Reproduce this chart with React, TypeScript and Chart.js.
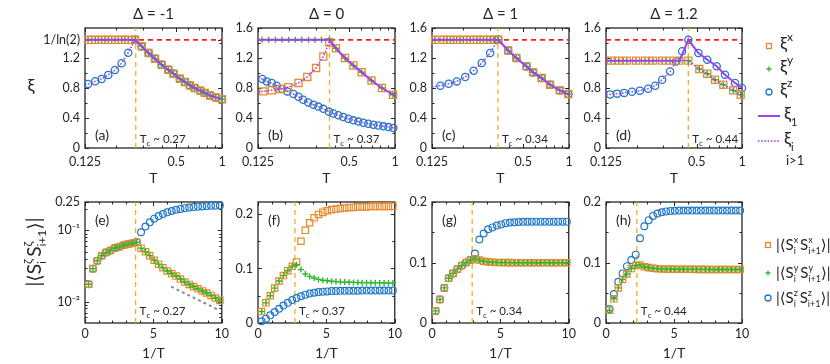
import { useEffect, useRef } from 'react';
import { Chart, registerables } from 'chart.js';

Chart.register(...registerables);

const FONT = 'Lato, "Noto Sans", "DejaVu Sans", sans-serif';
const INK = '#262626';
const COL_X = '#E8892B';
const COL_Y = '#2DB82D';
const COL_Z = '#1F78C8';
const COL_P = '#A23FF0';
const COL_RED = '#FF1A1A';
const COL_TC = '#EDB120';
const COL_GRAY = '#8C8C8C';
const XI_MAX = 1.4427; // 1/ln(2)

// ---------------- top row data (T, xi) ----------------
// (a) Delta = -1
const aT = [0.131, 0.146, 0.161, 0.178, 0.197, 0.218, 0.241, 0.267, 0.296, 0.328, 0.362, 0.4, 0.443, 0.48, 0.528, 0.57, 0.615, 0.66, 0.72, 0.77, 0.835, 0.91, 1.0];
const aXiX = [1.4427, 1.4427, 1.4427, 1.4427, 1.4427, 1.4427, 1.4427, 1.4427, 1.355, 1.267, 1.19, 1.11, 1.044, 0.99, 0.924, 0.88, 0.835, 0.8, 0.765, 0.735, 0.7, 0.675, 0.65];
const aXiY = [1.4427, 1.4427, 1.4427, 1.4427, 1.4427, 1.4427, 1.4427, 1.4427, 1.355, 1.267, 1.19, 1.11, 1.044, 0.99, 0.924, 0.88, 0.835, 0.8, 0.765, 0.735, 0.7, 0.675, 0.65];
const aXiZ = [0.853, 0.89, 0.92, 0.975, 1.04, 1.13, 1.27, 1.4427, 1.355, 1.267, 1.19, 1.11, 1.044, 0.99, 0.924, 0.88, 0.835, 0.8, 0.765, 0.735, 0.7, 0.675, 0.65];
const aL1T = [0.125, 0.267, 0.296, 0.328, 0.362, 0.4, 0.443, 0.48, 0.528, 0.57, 0.615, 0.66, 0.72, 0.77, 0.835, 0.91, 1.0];
const aL1 = [1.4427, 1.4427, 1.355, 1.267, 1.19, 1.11, 1.044, 0.99, 0.924, 0.88, 0.835, 0.8, 0.765, 0.735, 0.7, 0.675, 0.65];
const aL2T = [0.125, 0.131, 0.146, 0.161, 0.178, 0.197, 0.218, 0.241, 0.267, 0.296, 0.328, 0.362, 0.4, 0.443, 0.48, 0.528, 0.57, 0.615, 0.66, 0.72, 0.77, 0.835, 0.91, 1.0];
const aL2 = [0.84, 0.853, 0.89, 0.92, 0.975, 1.04, 1.13, 1.27, 1.4427, 1.355, 1.267, 1.19, 1.11, 1.044, 0.99, 0.924, 0.88, 0.835, 0.8, 0.765, 0.735, 0.7, 0.675, 0.65];

// (b) Delta = 0
const bTx = [0.1355, 0.154, 0.175, 0.198, 0.231, 0.264, 0.302, 0.337, 0.369, 0.408, 0.468, 0.532, 0.603, 0.7, 0.82, 0.97];
const bXiX = [0.755, 0.77, 0.787, 0.81, 0.867, 0.947, 1.067, 1.22, 1.41, 1.33, 1.2, 1.1, 1.01, 0.9, 0.8, 0.71];
const bTy = [0.133, 0.147, 0.163, 0.18, 0.199, 0.22, 0.243, 0.269, 0.297, 0.328, 0.369, 0.408, 0.468, 0.532, 0.603, 0.7, 0.82, 0.97];
const bXiY = [1.4427, 1.4427, 1.4427, 1.4427, 1.4427, 1.4427, 1.4427, 1.4427, 1.4427, 1.4427, 1.4427, 1.33, 1.2, 1.1, 1.01, 0.9, 0.8, 0.71];
const bTz = [0.1334, 0.1426, 0.154, 0.166, 0.181, 0.195, 0.214, 0.231, 0.248, 0.268, 0.29, 0.312, 0.337, 0.367, 0.392, 0.423, 0.456, 0.493, 0.531, 0.573, 0.618, 0.667, 0.72, 0.776, 0.838, 0.904, 0.975];
const bXiZ = [0.92, 0.888, 0.867, 0.83, 0.787, 0.755, 0.72, 0.684, 0.644, 0.608, 0.577, 0.552, 0.522, 0.485, 0.46, 0.437, 0.413, 0.39, 0.369, 0.352, 0.337, 0.324, 0.311, 0.3, 0.289, 0.279, 0.268];
const bL1T = [0.125, 0.369, 0.408, 0.468, 0.532, 0.603, 0.7, 0.82, 1.0];
const bL1 = [1.4427, 1.4427, 1.33, 1.2, 1.1, 1.01, 0.9, 0.8, 0.7];
const bL2T = [0.125, 0.1355, 0.154, 0.175, 0.198, 0.231, 0.264, 0.302, 0.337, 0.369, 0.408, 0.468, 0.532, 0.603, 0.7, 0.82, 0.97, 1.0];
const bL2 = [0.75, 0.755, 0.77, 0.787, 0.81, 0.867, 0.947, 1.067, 1.22, 1.41, 1.33, 1.2, 1.1, 1.01, 0.9, 0.8, 0.71, 0.7];
const bL3T = [0.125, 0.1334, 0.1426, 0.154, 0.166, 0.181, 0.195, 0.214, 0.231, 0.248, 0.268, 0.29, 0.312, 0.337, 0.367, 0.392, 0.423, 0.456, 0.493, 0.531, 0.573, 0.618, 0.667, 0.72, 0.776, 0.838, 0.904, 0.975, 1.0];
const bL3 = [0.935, 0.92, 0.888, 0.867, 0.83, 0.787, 0.755, 0.72, 0.684, 0.644, 0.608, 0.577, 0.552, 0.522, 0.485, 0.46, 0.437, 0.413, 0.39, 0.369, 0.352, 0.337, 0.324, 0.311, 0.3, 0.289, 0.279, 0.268, 0.265];

// (c) Delta = 1
const cTx = [0.131, 0.149, 0.165, 0.182, 0.201, 0.223, 0.247, 0.273, 0.302, 0.322, 0.342, 0.397, 0.45, 0.525, 0.58, 0.66, 0.75, 0.87, 0.99];
const cXiX = [1.4427, 1.4427, 1.4427, 1.4427, 1.4427, 1.4427, 1.4427, 1.4427, 1.4427, 1.4427, 1.4427, 1.3, 1.2, 1.088, 1.008, 0.933, 0.844, 0.768, 0.72];
const cXiY = [1.4427, 1.4427, 1.4427, 1.4427, 1.4427, 1.4427, 1.4427, 1.4427, 1.4427, 1.4427, 1.4427, 1.3, 1.2, 1.088, 1.008, 0.933, 0.844, 0.768, 0.72];
const cTz = [0.142, 0.161, 0.182, 0.207, 0.235, 0.266, 0.302, 0.342, 0.397, 0.45, 0.525, 0.58, 0.66, 0.75, 0.87, 0.99];
const cXiZ = [0.83, 0.857, 0.888, 0.947, 1.03, 1.133, 1.267, 1.4427, 1.3, 1.2, 1.088, 1.008, 0.933, 0.844, 0.768, 0.72];
const cL1T = [0.125, 0.342, 0.397, 0.45, 0.525, 0.58, 0.66, 0.75, 0.87, 1.0];
const cL1 = [1.4427, 1.4427, 1.3, 1.2, 1.088, 1.008, 0.933, 0.844, 0.768, 0.71];
const cL2T = [0.125, 0.142, 0.161, 0.182, 0.207, 0.235, 0.266, 0.302, 0.342, 0.397, 0.45, 0.525, 0.58, 0.66, 0.75, 0.87, 0.99, 1.0];
const cL2 = [0.815, 0.83, 0.857, 0.888, 0.947, 1.03, 1.133, 1.267, 1.4427, 1.3, 1.2, 1.088, 1.008, 0.933, 0.844, 0.768, 0.72, 0.71];

// (d) Delta = 1.2
const dTx = [0.135, 0.152, 0.172, 0.198, 0.227, 0.256, 0.295, 0.333, 0.382, 0.44, 0.521, 0.588, 0.662, 0.752, 0.875, 0.98];
const dXiX = [1.165, 1.165, 1.165, 1.165, 1.165, 1.165, 1.165, 1.165, 1.165, 1.165, 1.053, 0.99, 0.91, 0.844, 0.768, 0.71];
const dXiY = [1.165, 1.165, 1.165, 1.165, 1.165, 1.165, 1.165, 1.165, 1.165, 1.165, 1.053, 0.99, 0.91, 0.844, 0.768, 0.71];
const dTz = [0.133, 0.148, 0.165, 0.186, 0.21, 0.238, 0.265, 0.295, 0.333, 0.365, 0.4, 0.44, 0.513, 0.588, 0.679, 0.771, 0.899, 1.0];
const dXiZ = [0.715, 0.725, 0.735, 0.75, 0.765, 0.79, 0.83, 0.91, 1.02, 1.155, 1.29, 1.4427, 1.267, 1.178, 1.09, 0.978, 0.867, 0.8];
const dL1T = [0.125, 0.385, 0.44, 0.513, 0.588, 0.679, 0.771, 0.899, 1.0];
const dL1 = [1.165, 1.165, 1.4427, 1.267, 1.178, 1.09, 0.978, 0.867, 0.8];
const dL2T = [0.125, 0.133, 0.148, 0.165, 0.186, 0.21, 0.238, 0.265, 0.295, 0.333, 0.365, 0.385, 0.44, 0.521, 0.588, 0.662, 0.752, 0.875, 1.0];
const dL2 = [0.71, 0.715, 0.725, 0.735, 0.75, 0.765, 0.79, 0.83, 0.91, 1.02, 1.155, 1.165, 1.165, 1.053, 0.99, 0.91, 0.844, 0.768, 0.7];

const TC_T = [0.27, 0.37, 0.34, 0.44];
const TC_TEXT = ['0.27', '0.37', '0.34', '0.44'];
const TC_INV = [3.7, 2.7, 2.94, 2.27];

// ---------------- bottom row data (1/T, |<S S>|) ----------------
const invT = [0.26, 0.58, 0.9, 1.22, 1.54, 1.86, 2.18, 2.5, 2.82, 3.14, 3.46, 3.78, 4.1, 4.42, 4.74, 5.06, 5.38, 5.7, 6.02, 6.34, 6.66, 6.98, 7.3, 7.62, 7.94, 8.26, 8.58, 8.9, 9.22, 9.54, 9.86];

const eX = [0.0175, 0.029, 0.0375, 0.044, 0.049, 0.052, 0.0565, 0.059, 0.0617, 0.064, 0.066, 0.068, 0.0562, 0.0501, 0.0442, 0.038, 0.0335, 0.0299, 0.0269, 0.0248, 0.0228, 0.0207, 0.0188, 0.0174, 0.0162, 0.0151, 0.0141, 0.0132, 0.0122, 0.0112, 0.0104];
const eY = [0.0175, 0.029, 0.0375, 0.044, 0.049, 0.052, 0.0565, 0.059, 0.0617, 0.064, 0.066, 0.068, 0.0562, 0.0501, 0.0442, 0.038, 0.0335, 0.0299, 0.0269, 0.0248, 0.0228, 0.0207, 0.0188, 0.0174, 0.0162, 0.0151, 0.0141, 0.0132, 0.0122, 0.0112, 0.0104];
const eZ = [0.0175, 0.029, 0.0375, 0.044, 0.049, 0.052, 0.0565, 0.059, 0.0617, 0.064, 0.066, 0.068, 0.094, 0.113, 0.13, 0.146, 0.159, 0.17, 0.179, 0.187, 0.194, 0.2, 0.205, 0.209, 0.212, 0.215, 0.217, 0.219, 0.221, 0.222, 0.223];
const eGuideX = [6.3, 9.85];
const eGuideY = [0.0162, 0.0075];

const fX = [0.021, 0.037, 0.05, 0.064, 0.077, 0.087, 0.096, 0.104, 0.112, 0.15, 0.17, 0.184, 0.193, 0.199, 0.203, 0.206, 0.208, 0.209, 0.21, 0.211, 0.212, 0.212, 0.213, 0.213, 0.213, 0.214, 0.214, 0.214, 0.214, 0.214, 0.214];
const fY = [0.021, 0.037, 0.05, 0.064, 0.077, 0.087, 0.096, 0.104, 0.107, 0.098, 0.09, 0.0855, 0.0825, 0.08, 0.0785, 0.0775, 0.0765, 0.076, 0.0755, 0.075, 0.0748, 0.0745, 0.0743, 0.074, 0.074, 0.0738, 0.0737, 0.0736, 0.0735, 0.0734, 0.0734];
const fZ = [0.003, 0.008, 0.014, 0.02, 0.026, 0.032, 0.037, 0.042, 0.046, 0.049, 0.052, 0.054, 0.0555, 0.057, 0.0575, 0.058, 0.0585, 0.0588, 0.059, 0.059, 0.0592, 0.0593, 0.0593, 0.0594, 0.0594, 0.0595, 0.0595, 0.0595, 0.0595, 0.0595, 0.0595];

const gX = [0.02, 0.039, 0.058, 0.074, 0.082, 0.089, 0.095, 0.1, 0.104, 0.106, 0.104, 0.102, 0.101, 0.1005, 0.1, 0.1, 0.0998, 0.0998, 0.0997, 0.0997, 0.0996, 0.0996, 0.0996, 0.0995, 0.0995, 0.0995, 0.0995, 0.0995, 0.0995, 0.0995, 0.0995];
const gY = [0.02, 0.039, 0.058, 0.074, 0.082, 0.089, 0.095, 0.1, 0.104, 0.106, 0.104, 0.102, 0.101, 0.1005, 0.1, 0.1, 0.0998, 0.0998, 0.0997, 0.0997, 0.0996, 0.0996, 0.0996, 0.0995, 0.0995, 0.0995, 0.0995, 0.0995, 0.0995, 0.0995, 0.0995];
const gZ = [0.02, 0.039, 0.058, 0.074, 0.082, 0.089, 0.095, 0.1, 0.104, 0.115, 0.138, 0.148, 0.155, 0.158, 0.161, 0.163, 0.165, 0.166, 0.1665, 0.167, 0.1672, 0.1674, 0.1675, 0.1675, 0.1675, 0.1675, 0.1675, 0.1675, 0.1675, 0.1675, 0.1675];

const hX = [0.021, 0.04, 0.058, 0.072, 0.081, 0.09, 0.095, 0.096, 0.093, 0.0915, 0.0905, 0.0898, 0.0894, 0.0891, 0.089, 0.0889, 0.0888, 0.0888, 0.0887, 0.0887, 0.0886, 0.0886, 0.0886, 0.0885, 0.0885, 0.0885, 0.0885, 0.0885, 0.0885, 0.0885, 0.0885];
const hY = [0.021, 0.04, 0.058, 0.072, 0.081, 0.09, 0.095, 0.096, 0.093, 0.0915, 0.0905, 0.0898, 0.0894, 0.0891, 0.089, 0.0889, 0.0888, 0.0888, 0.0887, 0.0887, 0.0886, 0.0886, 0.0886, 0.0885, 0.0885, 0.0885, 0.0885, 0.0885, 0.0885, 0.0885, 0.0885];
const hZ = [0.023, 0.048, 0.068, 0.082, 0.094, 0.104, 0.113, 0.14, 0.16, 0.17, 0.177, 0.181, 0.183, 0.1845, 0.185, 0.1855, 0.186, 0.186, 0.186, 0.186, 0.186, 0.186, 0.186, 0.186, 0.186, 0.186, 0.186, 0.186, 0.186, 0.186, 0.186];

// tick definitions
const T_TICKS = [0.125, 0.5, 1];
const T_MINOR = [0.2, 0.3, 0.4, 0.6, 0.7, 0.8, 0.9];
const XI_TICKS_A = [0, 0.4, 0.8, 1.2, XI_MAX];
const XI_TICKS = [0, 0.4, 0.8, 1.2, 1.6];
const XI_MINOR = [0.2, 0.6, 1.0, 1.4];
const INV_TICKS = [0, 5, 10];
const INV_MINOR = [1, 2, 3, 4, 6, 7, 8, 9];
const CORR_LOG_TICKS = [0.01, 0.1, 0.25];
const CORR_LOG_MINOR = [0.006, 0.007, 0.008, 0.009, 0.02, 0.03, 0.04, 0.05, 0.06, 0.07, 0.08, 0.09, 0.2];
const CORR_TICKS = [0, 0.1, 0.2];
const CORR_MINOR = [0.05, 0.15];

// ---------------- helpers ----------------
const pts = (xs: number[], ys: number[]) => xs.map((x, i) => ({ x, y: ys[i] }));

function marker(xs: number[], ys: number[], style: string, color: string, r: number, bw: number, order: number) {
  return {
    data: pts(xs, ys), pointStyle: style, pointRadius: r, pointHoverRadius: r,
    pointBorderColor: color, pointBackgroundColor: 'rgba(0,0,0,0)', pointBorderWidth: bw,
    showLine: false, order, clip: false,
  };
}
function line(xs: number[], ys: number[], color: string, w: number, dash: number[], order: number) {
  return {
    data: pts(xs, ys), showLine: true, borderColor: color, borderWidth: w, borderDash: dash,
    pointRadius: 0, pointHoverRadius: 0, order, clip: false, tension: 0,
  };
}
const sqT = (xs: number[], ys: number[]) => marker(xs, ys, 'rect', COL_X, 5, 1.3, 3);
const plT = (xs: number[], ys: number[]) => marker(xs, ys, 'cross', COL_Y, 3, 1.4, 2);
const ciT = (xs: number[], ys: number[]) => marker(xs, ys, 'circle', COL_Z, 3.6, 1.3, 4);
const sqB = (xs: number[], ys: number[]) => marker(xs, ys, 'rect', COL_X, 4.5, 1.2, 3);
const plB = (xs: number[], ys: number[]) => marker(xs, ys, 'cross', COL_Y, 3, 1.4, 2);
const ciB = (xs: number[], ys: number[]) => marker(xs, ys, 'circle', COL_Z, 3.4, 1.2, 4);
const solid = (xs: number[], ys: number[]) => line(xs, ys, COL_P, 2, [], 0);
const dotted = (xs: number[], ys: number[]) => line(xs, ys, COL_P, 1.6, [1.6, 1.6], 1);
const redLine = () => line([0.125, 1], [XI_MAX, XI_MAX], COL_RED, 1.8, [5, 4], 7);
const tcLine = (x: number, y0: number, y1: number) => line([x, x], [y0, y1], COL_TC, 1.3, [5, 4], 6);

interface Run { t: string; size: number; dy?: number; stack?: boolean }
function runsWidth(ctx: CanvasRenderingContext2D, runs: Run[]) {
  let w = 0, pend = 0;
  for (const r of runs) {
    ctx.font = `${r.size}px ${FONT}`;
    const rw = ctx.measureText(r.t).width;
    if (r.stack) pend = Math.max(pend, rw); else { w += Math.max(rw, pend); pend = 0; }
  }
  return w + pend;
}
function drawRuns(ctx: CanvasRenderingContext2D, x: number, y: number, runs: Run[], align: 'left' | 'center') {
  let cx = align === 'center' ? x - runsWidth(ctx, runs) / 2 : x;
  let pend = 0;
  ctx.textAlign = 'left';
  ctx.textBaseline = 'alphabetic';
  for (const r of runs) {
    ctx.font = `${r.size}px ${FONT}`;
    const rw = ctx.measureText(r.t).width;
    ctx.fillText(r.t, cx, y + (r.dy || 0));
    if (r.stack) pend = Math.max(pend, rw); else { cx += Math.max(rw, pend); pend = 0; }
  }
}
const corrRuns = (c: string, big: number, small: number, up: number, down: number): Run[] => [
  { t: '|⟨S', size: big },
  { t: c, size: small, dy: -up, stack: true },
  { t: 'i', size: small, dy: down },
  { t: '\u2009S', size: big },
  { t: c, size: small, dy: -up, stack: true },
  { t: 'i+1', size: small, dy: down },
  { t: '⟩|', size: big },
];

// ---------------- geometry ----------------
const COLS: [number, number][] = [[85, 222], [258, 395], [432, 569], [606, 742]];
const ROWS = [
  { top: 28, bottom: 148, cTop: 0, cH: 190 },
  { top: 202, bottom: 323, cTop: 186, cH: 178 },
];

interface Axis { type: 'linear' | 'logarithmic'; min: number; max: number; ticks: number[]; minor: number[]; label: (v: number) => string; pad: number }
interface PanelCfg {
  row: number; col: number; x: Axis; y: Axis; datasets: any[];
  letter: string; tc: number; tcText: string; title?: string;
  extra?: (ctx: CanvasRenderingContext2D, ox: number, oy: number) => void;
}

const fmt = (v: number) => (v === 0 ? '0' : String(+v.toFixed(3)));
const xT: Axis = { type: 'logarithmic', min: 0.125, max: 1, ticks: T_TICKS, minor: T_MINOR, label: fmt, pad: 6 };
const xInv: Axis = { type: 'linear', min: 0, max: 10, ticks: INV_TICKS, minor: INV_MINOR, label: fmt, pad: 3 };
const yXi = (ticks: number[]): Axis => ({
  type: 'linear', min: 0, max: 1.6, ticks, minor: XI_MINOR, pad: 5,
  label: (v) => (Math.abs(v - XI_MAX) < 1e-6 ? '1/ln(2)' : fmt(v)),
});
const yCorr = (max: number): Axis => ({ type: 'linear', min: 0, max, ticks: CORR_TICKS, minor: CORR_MINOR, label: fmt, pad: 5 });
const yCorrLog: Axis = {
  type: 'logarithmic', min: 0.005, max: 0.25, ticks: CORR_LOG_TICKS, minor: CORR_LOG_MINOR, pad: 5,
  label: (v) => (v === 0.01 ? '10⁻²' : v === 0.1 ? '10⁻¹' : '0.25'),
};

// ---------------- extras (labels, legends) ----------------
const xiYLabel = (ctx: CanvasRenderingContext2D, ox: number, oy: number) => {
  ctx.fillStyle = INK;
  ctx.font = `18px ${FONT}`;
  ctx.textAlign = 'center';
  ctx.textBaseline = 'alphabetic';
  ctx.fillText('ξ', 31 - ox, 92 - oy);
};
const corrYLabel = (ctx: CanvasRenderingContext2D, ox: number, oy: number) => {
  ctx.save();
  ctx.fillStyle = INK;
  ctx.translate(35 - ox, 252 - oy);
  ctx.rotate(-Math.PI / 2);
  drawRuns(ctx, 0, 6, corrRuns('ζ', 19, 12, 9, 5), 'center');
  ctx.restore();
};
const topLegend = (ctx: CanvasRenderingContext2D, ox: number, oy: number) => {
  const mx = 769 - ox;
  ctx.lineWidth = 1.3;
  ctx.strokeStyle = COL_X;
  ctx.strokeRect(mx - 2.5, 46 - oy - 2.5, 5, 5);
  ctx.strokeStyle = COL_Y;
  ctx.beginPath();
  ctx.moveTo(mx - 2.5, 69 - oy); ctx.lineTo(mx + 2.5, 69 - oy);
  ctx.moveTo(mx, 69 - oy - 2.5); ctx.lineTo(mx, 69 - oy + 2.5);
  ctx.stroke();
  ctx.strokeStyle = COL_Z;
  ctx.beginPath(); ctx.arc(mx, 92 - oy, 3, 0, Math.PI * 2); ctx.stroke();
  ctx.strokeStyle = COL_P; ctx.lineWidth = 2;
  ctx.beginPath(); ctx.moveTo(758 - ox, 116 - oy); ctx.lineTo(780 - ox, 116 - oy); ctx.stroke();
  ctx.lineWidth = 1.6; ctx.setLineDash([1.6, 1.6]);
  ctx.beginPath(); ctx.moveTo(758 - ox, 141 - oy); ctx.lineTo(780 - ox, 141 - oy); ctx.stroke();
  ctx.setLineDash([]);
  ctx.fillStyle = INK;
  const tx = 780 - ox;
  drawRuns(ctx, tx, 50 - oy, [{ t: 'ξ', size: 18 }, { t: 'x', size: 12, dy: -9 }], 'left');
  drawRuns(ctx, tx, 73 - oy, [{ t: 'ξ', size: 18 }, { t: 'y', size: 12, dy: -9 }], 'left');
  drawRuns(ctx, tx, 96 - oy, [{ t: 'ξ', size: 18 }, { t: 'z', size: 12, dy: -9 }], 'left');
  drawRuns(ctx, 784 - ox, 120 - oy, [{ t: 'ξ', size: 18 }, { t: '1', size: 11, dy: 6 }], 'left');
  drawRuns(ctx, 784 - ox, 145 - oy, [{ t: 'ξ', size: 18 }, { t: 'i', size: 11, dy: 6 }], 'left');
  drawRuns(ctx, 786 - ox, 165 - oy, [{ t: 'i>1', size: 13 }], 'left');
};
const botLegend = (ctx: CanvasRenderingContext2D, ox: number, oy: number) => {
  const mx = 768 - ox;
  ctx.lineWidth = 1.3;
  ctx.strokeStyle = COL_X;
  ctx.strokeRect(mx - 2.5, 245 - oy - 2.5, 5, 5);
  ctx.strokeStyle = COL_Y;
  ctx.beginPath();
  ctx.moveTo(mx - 2.5, 273 - oy); ctx.lineTo(mx + 2.5, 273 - oy);
  ctx.moveTo(mx, 273 - oy - 2.5); ctx.lineTo(mx, 273 - oy + 2.5);
  ctx.stroke();
  ctx.strokeStyle = COL_Z;
  ctx.beginPath(); ctx.arc(mx, 298 - oy, 3, 0, Math.PI * 2); ctx.stroke();
  ctx.fillStyle = INK;
  const tx = 776 - ox;
  drawRuns(ctx, tx, 250 - oy, corrRuns('x', 15, 9, 7, 4), 'left');
  drawRuns(ctx, tx, 278 - oy, corrRuns('y', 15, 9, 7, 4), 'left');
  drawRuns(ctx, tx, 303 - oy, corrRuns('z', 15, 9, 7, 4), 'left');
};

// ---------------- panels ----------------
const PANELS: PanelCfg[] = [
  {
    row: 0, col: 0, x: xT, y: yXi(XI_TICKS_A), letter: '(a)', tc: TC_T[0], tcText: TC_TEXT[0], title: 'Δ = -1', extra: xiYLabel,
    datasets: [solid(aL1T, aL1), dotted(aL2T, aL2), plT(aT, aXiY), sqT(aT, aXiX), ciT(aT, aXiZ), redLine(), tcLine(TC_T[0], 0, 1.6)],
  },
  {
    row: 0, col: 1, x: xT, y: yXi(XI_TICKS), letter: '(b)', tc: TC_T[1], tcText: TC_TEXT[1], title: 'Δ = 0',
    datasets: [solid(bL1T, bL1), dotted(bL2T, bL2), dotted(bL3T, bL3), plT(bTy, bXiY), sqT(bTx, bXiX), ciT(bTz, bXiZ), redLine(), tcLine(TC_T[1], 0, 1.6)],
  },
  {
    row: 0, col: 2, x: xT, y: yXi(XI_TICKS), letter: '(c)', tc: TC_T[2], tcText: TC_TEXT[2], title: 'Δ = 1',
    datasets: [solid(cL1T, cL1), dotted(cL2T, cL2), plT(cTx, cXiY), sqT(cTx, cXiX), ciT(cTz, cXiZ), redLine(), tcLine(TC_T[2], 0, 1.6)],
  },
  {
    row: 0, col: 3, x: xT, y: yXi(XI_TICKS), letter: '(d)', tc: TC_T[3], tcText: TC_TEXT[3], title: 'Δ = 1.2', extra: topLegend,
    datasets: [solid(dL1T, dL1), dotted(dL2T, dL2), plT(dTx, dXiY), sqT(dTx, dXiX), ciT(dTz, dXiZ), redLine(), tcLine(TC_T[3], 0, 1.6)],
  },
  {
    row: 1, col: 0, x: xInv, y: yCorrLog, letter: '(e)', tc: TC_INV[0], tcText: TC_TEXT[0], extra: corrYLabel,
    datasets: [plB(invT, eY), sqB(invT, eX), ciB(invT, eZ), line(eGuideX, eGuideY, COL_GRAY, 2, [3, 3], 5), tcLine(TC_INV[0], 0.005, 0.25)],
  },
  {
    row: 1, col: 1, x: xInv, y: yCorr(0.222), letter: '(f)', tc: TC_INV[1], tcText: TC_TEXT[1],
    datasets: [plB(invT, fY), sqB(invT, fX), ciB(invT, fZ), tcLine(TC_INV[1], 0, 0.222)],
  },
  {
    row: 1, col: 2, x: xInv, y: yCorr(0.2), letter: '(g)', tc: TC_INV[2], tcText: TC_TEXT[2],
    datasets: [plB(invT, gY), sqB(invT, gX), ciB(invT, gZ), tcLine(TC_INV[2], 0, 0.2)],
  },
  {
    row: 1, col: 3, x: xInv, y: yCorr(0.2), letter: '(h)', tc: TC_INV[3], tcText: TC_TEXT[3], extra: botLegend,
    datasets: [plB(invT, hY), sqB(invT, hX), ciB(invT, hZ), tcLine(TC_INV[3], 0, 0.2)],
  },
];

function geometry(cfg: PanelCfg) {
  const g = ROWS[cfg.row];
  const [pl, pr] = COLS[cfg.col];
  const left = cfg.col === 0 ? 0 : pl - 42;
  const right = cfg.col === 3 ? 830 : pr + 10;
  return { g, pl, pr, left, right, width: right - left };
}

function Panel({ cfg }: { cfg: PanelCfg }) {
  const ref = useRef<HTMLCanvasElement>(null);
  const geo = geometry(cfg);
  useEffect(() => {
    const canvas = ref.current;
    if (!canvas) return;
    const { g, pl, pr, left, right } = geo;
    const deco = {
      id: 'deco',
      beforeDatasetsDraw(chart: any) {
        const { ctx, chartArea: a } = chart;
        const xs = chart.scales.x, ys = chart.scales.y;
        ctx.save();
        ctx.strokeStyle = INK;
        ctx.lineWidth = 1;
        ctx.beginPath();
        const xt = (vals: number[], len: number) => {
          for (const v of vals) {
            const p = Math.round(xs.getPixelForValue(v)) + 0.5;
            ctx.moveTo(p, a.bottom); ctx.lineTo(p, a.bottom - len);
            ctx.moveTo(p, a.top); ctx.lineTo(p, a.top + len);
          }
        };
        const yt = (vals: number[], len: number) => {
          for (const v of vals) {
            const p = Math.round(ys.getPixelForValue(v)) + 0.5;
            ctx.moveTo(a.left, p); ctx.lineTo(a.left + len, p);
            ctx.moveTo(a.right, p); ctx.lineTo(a.right - len, p);
          }
        };
        xt(cfg.x.ticks, 4); xt(cfg.x.minor, 2.5);
        yt(cfg.y.ticks, 4); yt(cfg.y.minor, 2.5);
        ctx.stroke();
        ctx.lineWidth = 1.3;
        ctx.strokeRect(a.left, a.top, a.right - a.left, a.bottom - a.top);
        ctx.restore();
      },
      afterDraw(chart: any) {
        const { ctx, chartArea: a } = chart;
        const cx = (a.left + a.right) / 2;
        ctx.save();
        ctx.fillStyle = INK;
        ctx.textBaseline = 'alphabetic';
        ctx.textAlign = 'center';
        if (cfg.title) {
          ctx.font = `15px ${FONT}`;
          ctx.fillText(cfg.title, cx, a.top - 9);
        }
        ctx.font = `14px ${FONT}`;
        ctx.fillText(cfg.row === 0 ? 'T' : '1/T', cx, a.bottom + 35);
        ctx.textAlign = 'left';
        ctx.font = `14px ${FONT}`;
        ctx.fillText(cfg.letter, a.left + 10, cfg.row === 0 ? a.bottom - 8 : a.top + 23);
        const tx = chart.scales.x.getPixelForValue(cfg.tc) + 4;
        drawRuns(ctx, tx, cfg.row === 0 ? a.bottom - 5 : a.bottom - 8,
          [{ t: 'T', size: 11.5 }, { t: 'c', size: 8, dy: 3 }, { t: ' ~ ' + cfg.tcText, size: 11.5 }], 'left');
        if (cfg.extra) cfg.extra(ctx, left, g.cTop);
        ctx.restore();
      },
    };
    const axisOpts = (ax: Axis, isX: boolean) => ({
      type: ax.type, min: ax.min, max: ax.max,
      grid: { display: false, drawTicks: false, tickLength: 0 },
      border: { display: false },
      ticks: {
        autoSkip: false, maxRotation: 0, minRotation: 0, padding: ax.pad,
        color: INK, font: { family: FONT, size: 12.5 },
        callback: (v: any) => ax.label(Number(v)),
      },
      afterBuildTicks: (s: any) => { s.ticks = ax.ticks.map((v) => ({ value: v })); },
      afterFit: (s: any) => {
        if (isX) s.height = g.cTop + g.cH - g.bottom;
        else s.width = pl - left;
      },
    });
    const chart = new Chart(canvas, {
      type: 'scatter',
      data: { datasets: cfg.datasets as any },
      options: {
        responsive: false,
        animation: false,
        devicePixelRatio: 1,
        events: [],
        layout: { padding: { left: 0, right: right - pr, top: g.top - g.cTop, bottom: 0 } },
        plugins: { legend: { display: false }, tooltip: { enabled: false }, title: { display: false } },
        scales: { x: axisOpts(cfg.x, true) as any, y: axisOpts(cfg.y, false) as any },
      },
      plugins: [deco],
    });
    return () => chart.destroy();
  }, []);
  return (
    <canvas
      ref={ref}
      width={geo.width}
      height={geo.g.cH}
      style={{ position: 'absolute', left: geo.left, top: geo.g.cTop, width: geo.width, height: geo.g.cH }}
    />
  );
}

export default function App() {
  return (
    <div style={{ position: 'fixed', left: 0, top: 0, width: 830, height: 364, background: '#ffffff', overflow: 'hidden' }}>
      {PANELS.map((p, i) => <Panel key={i} cfg={p} />)}
    </div>
  );
}
